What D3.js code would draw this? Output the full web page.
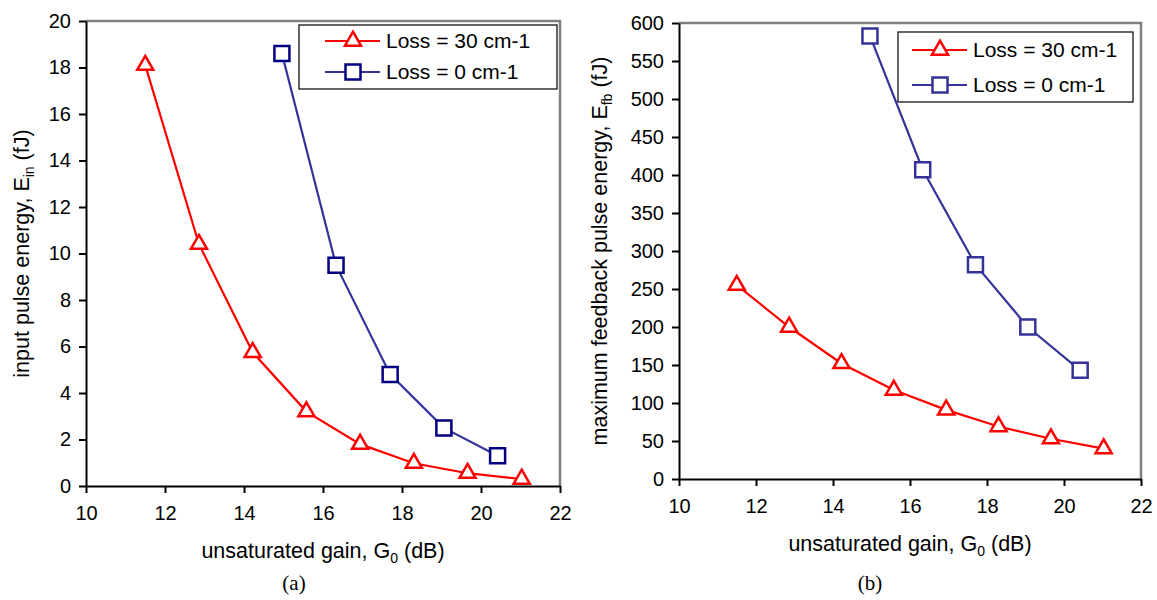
<!DOCTYPE html>
<html lang="en">
<head>
  <meta charset="UTF-8">
  <title>Pulse energy vs unsaturated gain</title>
  <script src="https://d3js.org/d3.v7.min.js"></script>
  <style>
    body {
      margin: 0;
      background: #fff;
    }
    svg {
      display: block;
      font-family: "Liberation Sans", Arial, sans-serif;
    }
    .tick text {
      font-size: 20px;
      fill: #000;
    }
    .axis path, .axis line {
      stroke: #000;
      stroke-width: 2px;
    }
    .title {
      font-size: 21.5px;
    }
    .legend text {
      font-size: 21px;
    }
  </style>
</head>
<body>
  <script>
// data
const gainLoss30 = [11.5, 12.86, 14.22, 15.58, 16.94, 18.3, 19.66, 21.03];
const gainLoss0 = [14.96, 16.33, 17.7, 19.06, 20.42];
const inputLoss30 = [18.1, 10.4, 5.75, 3.2, 1.8, 0.98, 0.55, 0.3];
const inputLoss0 = [18.6, 9.5, 4.8, 2.5, 1.3];
const feedbackLoss30 = [255, 200, 152, 117, 91, 69, 53, 40];
const feedbackLoss0 = [583, 407, 282, 200, 143];

const xTicks = [10, 12, 14, 16, 18, 20, 22];
const yTicksA = [0, 2, 4, 6, 8, 10, 12, 14, 16, 18, 20];
const yTicksB = [0, 50, 100, 150, 200, 250, 300, 350, 400, 450, 500, 550, 600];
const legendLabels = ['Loss = 30 cm-1', 'Loss = 0 cm-1'];

const red = '#ff0000';
const blueLine = '#333399';

const svg = d3.select('body').append('svg')
  .attr('width', 1157)
  .attr('height', 600);

const triangle = d3.symbol(d3.symbolTriangle, 112)();
const square = d3.symbol(d3.symbolSquare, 225)();

function zip(xs, ys) {
  return xs.map((x, i) => [x, ys[i]]);
}

function drawPanel(opt) {
  const x = d3.scaleLinear().domain([10, 22]).range([opt.left, opt.right]);
  const y = d3.scaleLinear().domain(opt.yDomain).range([opt.bottom, opt.top]);
  const g = svg.append('g');

  // gray frame (top and right)
  g.append('path')
    .attr('d', `M${opt.left},${opt.top}H${opt.right}V${opt.bottom}`)
    .attr('fill', 'none')
    .attr('stroke', '#808080')
    .attr('stroke-width', 2.5);

  g.append('g')
    .attr('class', 'axis')
    .attr('transform', `translate(0,${opt.bottom})`)
    .call(d3.axisBottom(x).tickValues(xTicks).tickSize(7).tickSizeOuter(0).tickPadding(13));

  g.append('g')
    .attr('class', 'axis')
    .attr('transform', `translate(${opt.left},0)`)
    .call(d3.axisLeft(y).tickValues(opt.yTicks).tickSize(7).tickSizeOuter(0).tickPadding(8));

  const line = d3.line().x(d => x(d[0])).y(d => y(d[1]));

  const series = [
    { pts: zip(gainLoss30, opt.loss30), color: red, mark: red, shape: triangle },
    { pts: zip(gainLoss0, opt.loss0), color: blueLine, mark: opt.squareColor, shape: square }
  ];

  series.forEach(s => {
    g.append('path')
      .attr('d', line(s.pts))
      .attr('fill', 'none')
      .attr('stroke', s.color)
      .attr('stroke-width', 2.2);
    g.selectAll(null)
      .data(s.pts)
      .enter().append('path')
      .attr('d', s.shape)
      .attr('transform', d => `translate(${x(d[0])},${y(d[1])})`)
      .attr('fill', '#fff')
      .attr('stroke', s.mark)
      .attr('stroke-width', 2.5);
  });

  // legend
  const lg = g.append('g').attr('class', 'legend');
  lg.append('rect')
    .attr('x', opt.legend.x).attr('y', opt.legend.y)
    .attr('width', opt.legend.w).attr('height', opt.legend.h)
    .attr('fill', '#fff').attr('stroke', '#000').attr('stroke-width', 1.2);
  legendLabels.forEach((label, i) => {
    const s = series[i];
    const cy = opt.legend.rows[i];
    const lx = opt.legend.x + opt.legend.lineStart;
    lg.append('line')
      .attr('x1', lx).attr('x2', lx + 55)
      .attr('y1', cy).attr('y2', cy)
      .attr('stroke', s.color).attr('stroke-width', 2.2);
    lg.append('path')
      .attr('d', s.shape)
      .attr('transform', `translate(${lx + 28},${cy})`)
      .attr('fill', '#fff').attr('stroke', s.mark).attr('stroke-width', 2.5);
    lg.append('text')
      .attr('x', lx + 61).attr('y', cy)
      .attr('dy', '0.35em')
      .text(label);
  });

  // x title
  const xt = g.append('text')
    .attr('class', 'title')
    .attr('x', (opt.left + opt.right) / 2)
    .attr('y', opt.bottom + 72)
    .attr('text-anchor', 'middle');
  xt.append('tspan').text('unsaturated gain, G');
  xt.append('tspan').attr('dy', 5).attr('font-size', 14).text('0');
  xt.append('tspan').attr('dy', -5).text(' (dB)');

  // y title
  const yt = g.append('text')
    .attr('class', 'title')
    .attr('transform', `translate(${opt.yTitleX},${(opt.top + opt.bottom) / 2}) rotate(-90)`)
    .attr('text-anchor', 'middle');
  yt.append('tspan').text(opt.yTitle + ', E');
  yt.append('tspan').attr('dy', 5).attr('font-size', 14).text(opt.ySub);
  yt.append('tspan').attr('dy', -5).text(' (fJ)');

  svg.append('text')
    .attr('x', opt.capX)
    .attr('y', 590)
    .attr('text-anchor', 'middle')
    .attr('font-family', '"Liberation Serif", "Times New Roman", serif')
    .attr('font-size', 21)
    .text(opt.caption);
}

drawPanel({
  left: 86, right: 560, top: 21, bottom: 486,
  yDomain: [0, 20], yTicks: yTicksA,
  loss30: inputLoss30, loss0: inputLoss0,
  squareColor: '#000080',
  yTitle: 'input pulse energy', ySub: 'in', yTitleX: 29,
  legend: { x: 299, y: 25, w: 258, h: 64, rows: [41, 72], lineStart: 26 },
  caption: '(a)', capX: 294
});

drawPanel({
  left: 679, right: 1141, top: 23, bottom: 479,
  yDomain: [0, 600], yTicks: yTicksB,
  loss30: feedbackLoss30, loss0: feedbackLoss0,
  squareColor: '#333399',
  yTitle: 'maximum feedback pulse energy', ySub: 'fb', yTitleX: 607,
  legend: { x: 898, y: 32, w: 235, h: 70, rows: [50, 85], lineStart: 14 },
  caption: '(b)', capX: 870
});
  </script>
</body>
</html>
